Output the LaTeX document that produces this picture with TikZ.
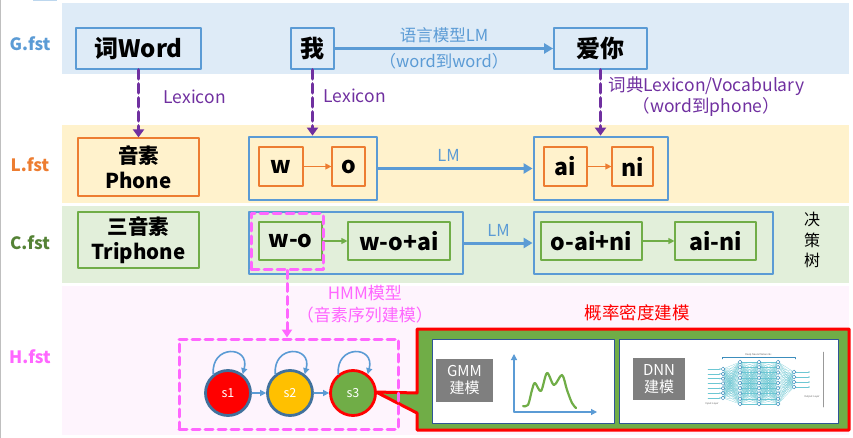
\documentclass[tikz,border=0pt]{standalone}
\usepackage{fontspec}
\setmainfont{Noto Sans CJK SC}
\usetikzlibrary{arrows.meta,positioning}

% colours of the four layers
\definecolor{bandG}{HTML}{DEEBF7}
\definecolor{bandL}{HTML}{FFF2CC}
\definecolor{bandC}{HTML}{E2EFDA}
\definecolor{bandH}{HTML}{FEF4FD}
\definecolor{lmblue}{HTML}{5B9BD5}
\definecolor{phorange}{HTML}{ED7D31}
\definecolor{trigreen}{HTML}{70AD47}
\definecolor{cgreen}{HTML}{548235}
\definecolor{lexpurple}{HTML}{7030A0}
\definecolor{hmmpink}{HTML}{FF66FF}
\definecolor{stateblue}{HTML}{41719C}
\definecolor{stategold}{HTML}{FFC000}
\definecolor{panelblue}{HTML}{2F5597}
\definecolor{gmmgray}{HTML}{7F7F7F}
\definecolor{netteal}{HTML}{6CC7D3}
\definecolor{netnode}{HTML}{3C8DBC}

\begin{document}
\begin{tikzpicture}[x=1pt, y=-1pt, line cap=round, line join=round,
	fstname/.style={font=\bfseries\fontsize{17}{20}\selectfont},
	wordbox/.style={draw=lmblue, line width=1.8pt, fill=bandG, inner sep=0pt, minimum height=41, font=\bfseries\fontsize{24}{28}\selectfont},
	unitbox/.style={draw=#1, line width=1.2pt, inner sep=0pt, align=center, font=\bfseries\fontsize{23}{26}\selectfont},
	namebox/.style={draw=#1, line width=1.2pt, inner sep=0pt, align=center, font=\bfseries\fontsize{20.5}{25}\selectfont},
	grpbox/.style={draw=lmblue, line width=2.8pt, inner sep=0pt, minimum height=63},
	unitarrow/.style={draw=#1, line width=1.2pt, -{Triangle[length=6pt,width=6pt]}},
	lmarrow/.style={draw=lmblue, line width=3pt, -{Triangle[length=9pt,width=10pt]}},
	lexarrow/.style={draw=lexpurple, line width=3.5pt, dash pattern=on 9pt off 5pt, -{Triangle[length=8pt,width=11pt]}},
	pinkarrow/.style={draw=hmmpink, line width=3pt, dash pattern=on 8pt off 5pt, -{Triangle[length=8pt,width=10pt]}},
	pinkbox/.style={draw=hmmpink, line width=3pt, dash pattern=on 8pt off 5pt, inner sep=0pt},
	lmtext/.style={text=lmblue, font=\fontsize{16.5}{19}\selectfont},
	lextext/.style={text=lexpurple, font=\fontsize{17.5}{21}\selectfont, align=center},
	state/.style={circle, minimum size=45, inner sep=0pt, line width=2.8pt, text=white, font=\fontsize{12.5}{14}\selectfont},
	looparrow/.style={draw=lmblue, line width=1.6pt, -{Triangle[length=6pt,width=6pt]}},
	panel/.style={draw=panelblue, line width=1pt, fill=white, inner sep=0pt},
	graybox/.style={fill=gmmgray, text=white, inner sep=0pt, align=center, font=\fontsize{15}{17}\selectfont},
	netline/.style={draw=netteal, line width=0.15pt}]
	
	\useasboundingbox (0,0) rectangle (853,438);
	
	% Layer bands
	\fill[bandG] (62,3) rectangle (849,74);
	\fill[bandL] (62,125) rectangle (849,203);
	\fill[bandC] (62,206) rectangle (849,283);
	\fill[bandH] (62,286) rectangle (849,435);
	\fill[lmblue!40] (33,0) rectangle (57,1.5);
	\draw[black!25, line width=1pt] (0.5,0) -- (0.5,438);
	
	% Layer names
	\node[fstname, text=lmblue] (gfst) at (30,44) {G.fst};
	\node[fstname, text=phorange] (lfst) at (30,165) {L.fst};
	\node[fstname, text=cgreen] (cfst) at (30,243) {C.fst};
	\node[fstname, text=hmmpink] (hfst) at (30,357) {H.fst};
	
	% G: words
	\node[wordbox, minimum width=125] (word) at (138.5,48.5) {词Word};
	\node[wordbox, minimum width=43] (wo) at (312.5,48.5) {我};
	\node[wordbox, minimum width=93] (aini) at (600.5,48.5) {爱你};
	\draw[lmarrow] (wo) -- (aini)
	node[midway, above=1pt, lmtext] {语言模型LM}
	node[midway, below=0pt, lmtext] {（word到word）};
	
	% L: phones
	\node[namebox=phorange, fill=bandL, minimum width=121, minimum height=58] (phone) at (138.5,167) {音素\\Phone};
	\node[grpbox, minimum width=128] (wogrp) at (313,168.5) {};
	\node[unitbox=phorange, minimum width=44, minimum height=39] (w) at (281,166.5) {w};
	\node[unitbox=phorange, minimum width=33, minimum height=39] (o) at (348.5,166.5) {o};
	\draw[unitarrow=phorange] (w) -- (o);
	\node[grpbox, minimum width=134] (aigrp) at (601,168.5) {};
	\node[unitbox=phorange, minimum width=43, minimum height=39] (ai) at (565.5,166.5) {ai};
	\node[unitbox=phorange, minimum width=41, minimum height=39] (ni) at (632.5,166.5) {ni};
	\draw[unitarrow=phorange] (ai) -- (ni);
	\draw[lmarrow] (wogrp) -- (aigrp) node[midway, above=2pt, xshift=-7pt, lmtext] {LM};
	
	% Lexicon: word -> phone
	\draw[lexarrow] (word) -- (word |- phone.north) node[pos=0.4, right=20pt, lextext] {Lexicon};
	\draw[lexarrow] (wo) -- (wo |- wogrp.north) node[pos=0.4, right=6pt, lextext] {Lexicon};
	\draw[lexarrow] (aini) -- (aini |- aigrp.north) node[pos=0.4, right=3pt, lextext] {词典Lexicon/Vocabulary\\（word到phone）};
	
	% C: triphones
	\node[namebox=trigreen, fill=bandC, minimum width=121, minimum height=56] (triphone) at (138.5,240) {三音素\\Triphone};
	\node[grpbox, minimum width=214, minimum height=62] (wogrp2) at (356,243) {};
	\node[unitbox=trigreen, minimum width=63, minimum height=38] (wo2) at (290.5,241) {w-o};
	\node[unitbox=trigreen, minimum width=102, minimum height=38] (woai) at (399,241) {w-o+ai};
	\draw[unitarrow=trigreen] (wo2) -- (woai);
	\node[pinkbox, minimum width=72, minimum height=55] (hmmsel) at (287,241.5) {};
	\node[grpbox, minimum width=239, minimum height=62] (aigrp2) at (653.5,243) {};
	\node[unitbox=trigreen, minimum width=101, minimum height=38] (oaini) at (591.5,241) {o-ai+ni};
	\node[unitbox=trigreen, minimum width=81, minimum height=38] (aini2) at (715.5,241) {ai-ni};
	\draw[unitarrow=trigreen] (oaini) -- (aini2);
	\draw[lmarrow] (wogrp2) -- (aigrp2) node[midway, above=2pt, lmtext] {LM};
	\node[align=center, font=\fontsize{16}{20.5}\selectfont] (dtree) at (812,240) {决\\策\\树};
	
	% H: density model callout
	\coordinate (tip) at (376,392);
	\draw[fill=trigreen, draw=red, line width=3pt] (417,329) -- (849,329) -- (849,430) -- (417,430) -- (417,413) -- (tip) -- (417,393) -- cycle;
	\node[text=red, font=\fontsize{17.5}{20}\selectfont] (pdftitle) at (637,313) {概率密度建模};
	
	% H: HMM states
	\node[pinkbox, minimum width=219, minimum height=90] (hmm) at (288.5,384) {};
	\draw[pinkarrow] (hmmsel.south) -- (hmmsel.south |- hmm.north)
	node[midway, right=5pt, align=center, text=hmmpink, font=\fontsize{17}{22}\selectfont] {HMM模型\\（音素序列建模）};
	\node[state, fill=red, draw=stateblue] (s1) at (228,393) {s1};
	\node[state, fill=stategold, draw=stateblue] (s2) at (290,393) {s2};
	\node[state, fill=trigreen, draw=red] (s3) at (353,393) {s3};
	\foreach \s in {s1,s2,s3} {
		\draw[looparrow] (\s.128) to[out=95, in=75, looseness=2.6] (\s.52);
	}
	\draw[looparrow] (s1) -- (s2);
	\draw[looparrow] (s2) -- (s3);
	
	% GMM panel
	\node[panel, minimum width=182, minimum height=84] (gmmpanel) at (523,381) {};
	\node[graybox, minimum width=57, minimum height=43] (gmm) at (464.5,380.5) {GMM\\建模};
	\coordinate (gmmorg) at (514,412);
	\draw[looparrow, line width=1.2pt] (gmmorg) -- (514,354);
	\draw[looparrow, line width=1.2pt] (gmmorg) -- (597,412);
	\draw[trigreen, line width=2.2pt] plot[smooth, tension=0.55] coordinates {(523,406) (528,405) (532,390) (535,383) (541,391) (547,373) (554,385) (562,375) (567,390) (572,403) (576,408)};
	
	% DNN panel
	\node[panel, minimum width=219, minimum height=84] (dnnpanel) at (728.5,381) {};
	\node[graybox, minimum width=52, minimum height=42] (dnn) at (659,379) {DNN\\建模};
	\foreach \c/\x/\n/\t/\s in {1/723/7/369/4.83, 2/740/9/362/5.25, 3/759/9/362/5.25, 4/778/9/362/5.25, 5/794/4/372/5} {
		\foreach \i in {1,...,\n} {
			\coordinate (n\c-\i) at (\x,{\t+(\i-1)*\s});
		}
	}
	\foreach \a/\b/\na/\nb in {1/2/7/9, 2/3/9/9, 3/4/9/9, 4/5/9/4} {
		\foreach \i in {1,...,\na} {
			\foreach \j in {1,...,\nb} {
				\draw[netline] (n\a-\i) -- (n\b-\j);
			}
		}
	}
	\foreach \i in {1,...,7} {
		\draw[netteal, line width=0.5pt, -{Triangle[length=1.5pt,width=1.5pt]}] ([xshift=-15pt]n1-\i) -- ([xshift=-2pt]n1-\i);
	}
	\foreach \i in {1,...,4} {
		\draw[netteal, line width=0.5pt, -{Triangle[length=1.5pt,width=1.5pt]}] ([xshift=2pt]n5-\i) -- ([xshift=16pt]n5-\i);
	}
	\foreach \c/\n in {1/7, 2/9, 3/9, 4/9, 5/4} {
		\foreach \i in {1,...,\n} {
			\draw[netnode, fill=white, line width=0.5pt] (n\c-\i) circle (1.9pt);
		}
	}
	\draw[netnode, line width=0.4pt] (722,359) -- (722,357) -- (795,357) -- (795,359);
	\node[font=\fontsize{2.5}{3}\selectfont, text=black!60] (dnntitle) at (758.5,354.5) {Deep Neural Networks};
	\node[font=\fontsize{2.5}{3}\selectfont, text=black!60] (inlayer) at (712,404) {Input Layer};
	\node[font=\fontsize{2.5}{3}\selectfont, text=black!60] (outlayer) at (812,397) {Output Layer};
	\draw[black!40, line width=0.5pt] (823,352) -- (823,407);
	
\end{tikzpicture}
\end{document}
